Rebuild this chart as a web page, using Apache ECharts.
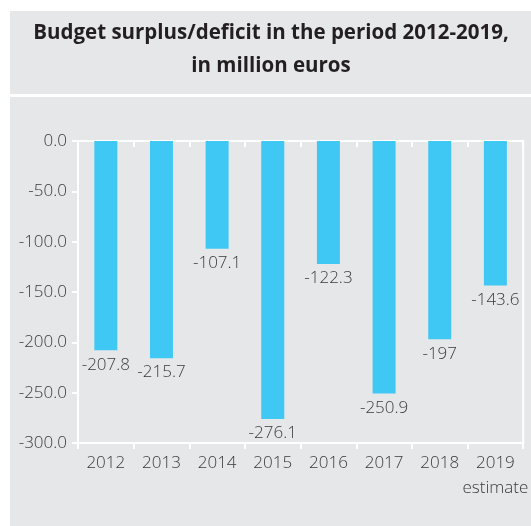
<!DOCTYPE html>
<html>
<head>
<meta charset="utf-8">
<script src="https://cdn.jsdelivr.net/npm/echarts@6/dist/echarts.min.js"></script>
<style>
  html, body { margin: 0; padding: 0; background: #ffffff; }
  #chart { width: 531px; height: 526px; }
</style>
</head>
<body>
<div id="chart"></div>
<script>
// Budget balance by year (million euros)
const years = ['2012', '2013', '2014', '2015', '2016', '2017', '2018', '2019'];
const yearNotes = ['', '', '', '', '', '', '', 'estimate'];
const balance = [-207.8, -215.7, -107.1, -276.1, -122.3, -250.9, -197, -143.6];
const yTicks = { min: -300, max: 0, step: 50 };

const panelColor = '#e6e7e8';
const barColor = '#40c8f4';
const textColor = '#3a3a3a';
const fontFamily = '"Open Sans", "Noto Sans", sans-serif';

const chart = echarts.init(document.getElementById('chart'), null, { renderer: 'canvas' });

const categoryLabels = years.map((y, i) => yearNotes[i] ? y + '\n' + yearNotes[i] : y);

chart.setOption({
  backgroundColor: '#ffffff',
  animation: false,
  graphic: [
    { type: 'rect', z: -10, shape: { x: 10, y: 11, width: 521, height: 83 }, style: { fill: panelColor } },
    { type: 'rect', z: -10, shape: { x: 10, y: 97, width: 521, height: 429 }, style: { fill: panelColor } }
  ],
  title: {
    text: 'Budget surplus/deficit in the period 2012-2019,\nin million euros',
    left: 266,
    textAlign: 'center',
    top: 12,
    textStyle: {
      fontFamily: fontFamily,
      fontWeight: 'bold',
      fontSize: 20.5,
      lineHeight: 33,
      color: '#231f20'
    }
  },
  grid: {
    left: 78,
    right: 3,
    top: 141,
    bottom: 83,
    show: true,
    borderColor: '#ffffff',
    borderWidth: 2,
    backgroundColor: 'transparent'
  },
  xAxis: [
    {
      type: 'category',
      data: categoryLabels,
      position: 'bottom',
      axisLine: { show: true, onZero: false, lineStyle: { color: '#ffffff', width: 2 } },
      axisTick: { show: true, inside: false, length: 6, lineStyle: { color: '#ffffff', width: 2 } },
      axisLabel: {
        interval: 0,
        color: textColor,
        fontFamily: fontFamily,
        fontWeight: 300,
        fontSize: 17,
        lineHeight: 25,
        margin: 8
      }
    },
    {
      type: 'category',
      data: categoryLabels,
      position: 'top',
      axisLine: { show: true, onZero: false, lineStyle: { color: '#ffffff', width: 2 } },
      axisTick: { show: true, inside: true, interval: 0, length: 6, lineStyle: { color: '#ffffff', width: 2 } },
      axisLabel: { show: false }
    }
  ],
  yAxis: {
    type: 'value',
    min: yTicks.min,
    max: yTicks.max,
    interval: yTicks.step,
    axisLine: { show: true, lineStyle: { color: '#ffffff', width: 2 } },
    axisTick: { show: true, length: 6, lineStyle: { color: '#ffffff', width: 2 } },
    splitLine: { show: false },
    axisLabel: {
      color: textColor,
      fontFamily: fontFamily,
      fontWeight: 300,
      fontSize: 17,
      margin: 11,
      formatter: v => v.toFixed(1)
    }
  },
  series: [
    {
      type: 'bar',
      data: balance,
      barWidth: 23,
      itemStyle: { color: barColor },
      label: {
        show: true,
        position: 'bottom',
        distance: 6,
        color: textColor,
        fontFamily: fontFamily,
        fontWeight: 300,
        fontSize: 17,
        formatter: p => String(p.value)
      }
    }
  ]
});
</script>
</body>
</html>
